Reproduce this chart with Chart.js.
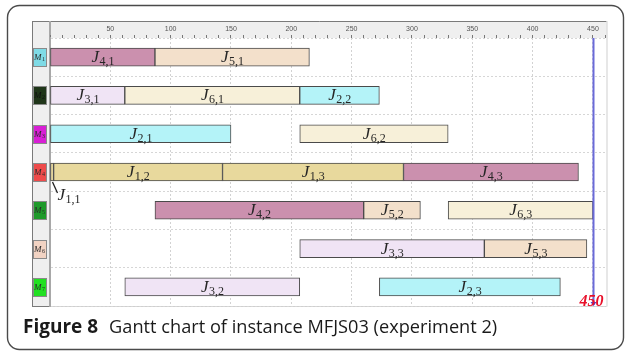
<!DOCTYPE html>
<html><head><meta charset="utf-8">
<script src="https://cdn.jsdelivr.net/npm/chart.js@4"></script>
<style>html,body{margin:0;padding:0;background:#fff;}#wrap{width:626px;height:351px;position:relative;}</style>
</head><body><div id="wrap"><canvas id="c" width="626" height="351"></canvas></div>
<script>
// ---- data ----
const machines = ['M1','M2','M3','M4','M5','M6','M7'];
const machineNums = [1,2,3,4,5,6,7];
const opMachine = ['M1','M1','M2','M2','M2','M3','M3','M4','M4','M4','M4','M5','M5','M5','M6','M6','M7','M7'];
const opJob     = [4,5,3,6,2,2,6,1,1,1,4,4,5,6,3,5,3,2];
const opIndex   = [1,1,1,1,2,1,2,1,2,3,3,2,2,3,3,3,2,3];
const opStart   = [0,87,0,62,207,0,207,0,3,143,293,87,260,330,207,360,62,273];
const opEnd     = [87,215,62,207,273,150,330,3,143,293,438,260,307,450,360,445,207,423];
const xTickLabels = [50,100,150,200,250,300,350,400,450];
const makespan = 450;
const captionBold = 'Figure 8';
const captionText = 'Gantt chart of instance MFJS03 (experiment 2)';

// ---- styles ----
const jobColors = {1:'#e8d99d',2:'#b4f3f8',3:'#f0e4f5',4:'#cb90ae',5:'#f3e0cb',6:'#f7f0d9'};
const machineColors = ['#7fdbe6','#1f3519','#d81fd5','#ee4b4b','#1f9a2b','#f2d3c3','#22e022'];
const tinyOp = 7; // J1,1 drawn with leader line

function drawJ(ctx, x, y, job, op, size, align) {
  const sub = job + ',' + op;
  ctx.font = 'italic ' + size + 'px "Liberation Serif"';
  const w1 = ctx.measureText('J').width;
  const subSize = Math.round(size * 0.72);
  ctx.font = subSize + 'px "Liberation Serif"';
  const w2 = ctx.measureText(sub).width;
  const x0 = align === 'left' ? x : x - (w1 + w2) / 2;
  ctx.textAlign = 'left';
  ctx.textBaseline = 'alphabetic';
  ctx.fillStyle = '#262626';
  ctx.font = 'italic ' + size + 'px "Liberation Serif"';
  ctx.fillText('J', x0, y);
  ctx.font = subSize + 'px "Liberation Serif"';
  ctx.fillText(sub, x0 + w1 + 0.5, y + 3);
}

const decor = {
  id: 'decor',
  beforeDraw(chart) {
    const ctx = chart.ctx, a = chart.chartArea;
    ctx.save();
    ctx.fillStyle = '#fff';
    ctx.fillRect(0, 0, chart.width, chart.height);
    // outer rounded frame
    ctx.strokeStyle = '#4a4a4a'; ctx.lineWidth = 1.4;
    ctx.beginPath(); ctx.roundRect(7.5, 5.5, 616, 344, 12); ctx.stroke();
    const hTop = a.top - 17, cLeft = a.left - 18, right = a.right + 1.5;
    // header band
    ctx.fillStyle = '#efefef';
    ctx.fillRect(cLeft, hTop, right - cLeft, 17);
    // left column
    ctx.fillRect(cLeft, a.top, 18, a.bottom - a.top);
    ctx.strokeStyle = '#7a7a7a'; ctx.lineWidth = 1;
    ctx.beginPath();
    ctx.moveTo(cLeft, hTop + 0.5); ctx.lineTo(right, hTop + 0.5);
    ctx.moveTo(cLeft + 0.5, hTop); ctx.lineTo(cLeft + 0.5, a.bottom + 0.5);
    ctx.moveTo(cLeft, a.bottom + 0.5); ctx.lineTo(a.left, a.bottom + 0.5);
    ctx.stroke();
    ctx.strokeStyle = '#cfcfcf';
    ctx.beginPath();
    ctx.moveTo(right + 0.5, hTop); ctx.lineTo(right + 0.5, a.bottom + 0.5);
    ctx.moveTo(a.left, a.bottom + 0.5); ctx.lineTo(right, a.bottom + 0.5);
    ctx.stroke();
    // left column divider through header
    ctx.strokeStyle = '#a8a8a8'; ctx.lineWidth = 2;
    ctx.beginPath(); ctx.moveTo(a.left, hTop); ctx.lineTo(a.left, a.top); ctx.stroke();
    ctx.restore();
  },
  afterDatasetsDraw(chart) {
    const ctx = chart.ctx, a = chart.chartArea;
    const meta = chart.getDatasetMeta(0);
    const xs = chart.scales.x;
    ctx.save();
    meta.data.forEach((el, i) => {
      if (i === tinyOp) return;
      const p = el.getProps(['x', 'base', 'y'], true);
      drawJ(ctx, (p.x + p.base) / 2, p.y + 5, opJob[i], opIndex[i], 17, 'center');
    });
    // J1,1 annotation
    const t = meta.data[tinyOp].getProps(['x', 'base', 'y'], true);
    ctx.strokeStyle = '#222'; ctx.lineWidth = 1.3;
    ctx.beginPath(); ctx.moveTo(t.base + 2, t.y + 10); ctx.lineTo(t.base + 7, t.y + 21); ctx.stroke();
    drawJ(ctx, t.base + 7, t.y + 28, opJob[tinyOp], opIndex[tinyOp], 17, 'left');
    // makespan line
    const mx = Math.round(xs.getPixelForValue(makespan)) + 0.5;
    ctx.strokeStyle = '#6a6ad8'; ctx.lineWidth = 2;
    ctx.beginPath(); ctx.moveTo(mx, a.top); ctx.lineTo(mx, a.bottom - 1); ctx.stroke();
    ctx.fillStyle = '#4444dd';
    ctx.beginPath(); ctx.moveTo(mx - 3, a.bottom - 4); ctx.lineTo(mx + 3, a.bottom - 4); ctx.lineTo(mx, a.bottom); ctx.closePath(); ctx.fill();
    ctx.fillStyle = '#e8102a';
    ctx.font = 'bold italic 16px "Liberation Serif"';
    ctx.textAlign = 'center'; ctx.textBaseline = 'alphabetic';
    ctx.fillText(String(makespan), mx - 2, a.bottom);
    ctx.restore();
  },
  afterDraw(chart) {
    const ctx = chart.ctx, a = chart.chartArea, ys = chart.scales.y;
    ctx.save();
    machines.forEach((m, i) => {
      const y = Math.round(ys.getPixelForValue(i));
      ctx.fillStyle = machineColors[i];
      ctx.fillRect(a.left - 16.5, y - 9, 13, 18);
      ctx.strokeStyle = '#8a8a8a'; ctx.lineWidth = 1;
      ctx.strokeRect(a.left - 16.5, y - 9 + 0.5, 13, 18);
      ctx.fillStyle = i === 1 ? '#111' : '#2a2a2a';
      ctx.textAlign = 'left'; ctx.textBaseline = 'alphabetic';
      ctx.font = 'italic 9px "Liberation Serif"';
      ctx.fillText('M', a.left - 16, y + 3);
      ctx.font = '6px "Liberation Serif"';
      ctx.fillText(String(machineNums[i]), a.left - 8, y + 4);
    });
    // caption
    ctx.fillStyle = '#1a1a1a';
    ctx.textBaseline = 'alphabetic'; ctx.textAlign = 'left';
    ctx.font = 'bold 19px "Open Sans"';
    ctx.fillText(captionBold, 23, 333);
    const wb = ctx.measureText(captionBold).width;
    ctx.font = '18.2px "Open Sans"';
    ctx.fillText(captionText, 23 + wb + 11, 333);
    ctx.restore();
  }
};

new Chart(document.getElementById('c'), {
  type: 'bar',
  data: {
    labels: machines,
    datasets: [{
      data: opMachine.map((m, i) => ({ x: [opStart[i], opEnd[i]], y: m })),
      backgroundColor: opJob.map(j => jobColors[j]),
      borderColor: '#4a4a4a',
      borderWidth: 1,
      borderSkipped: false,
      barThickness: 18
    }]
  },
  options: {
    indexAxis: 'y',
    responsive: false,
    animation: false,
    devicePixelRatio: 1,
    layout: { padding: { left: 32, right: 21, top: 21, bottom: 45 } },
    plugins: { legend: { display: false }, tooltip: { enabled: false } },
    scales: {
      x: {
        type: 'linear', position: 'top', min: 0, max: 460,
        afterFit: s => { s.height = 17; },
        ticks: {
          stepSize: 10, maxTicksLimit: 100, autoSkip: false, maxRotation: 0,
          padding: 2, color: '#555', font: { size: 7, family: 'Liberation Sans' },
          callback: v => xTickLabels.includes(v) ? String(v) : ''
        },
        grid: {
          color: c => (c.tick && c.tick.value % 50 === 0 && c.tick.value > 0) ? '#d2d2d2' : 'rgba(0,0,0,0)',
          tickColor: '#777', tickLength: 3, lineWidth: 1
        },
        border: { display: false, dash: [2, 2] }
      },
      y: {
        type: 'category', offset: true,
        afterFit: s => { s.width = 18; },
        ticks: { display: false },
        grid: { offset: true, color: '#d6d6d6', drawTicks: false, lineWidth: 1 },
        border: { display: true, color: '#a8a8a8', width: 2, dash: [2, 2] }
      }
    }
  },
  plugins: [decor]
});
</script>
</body></html>
